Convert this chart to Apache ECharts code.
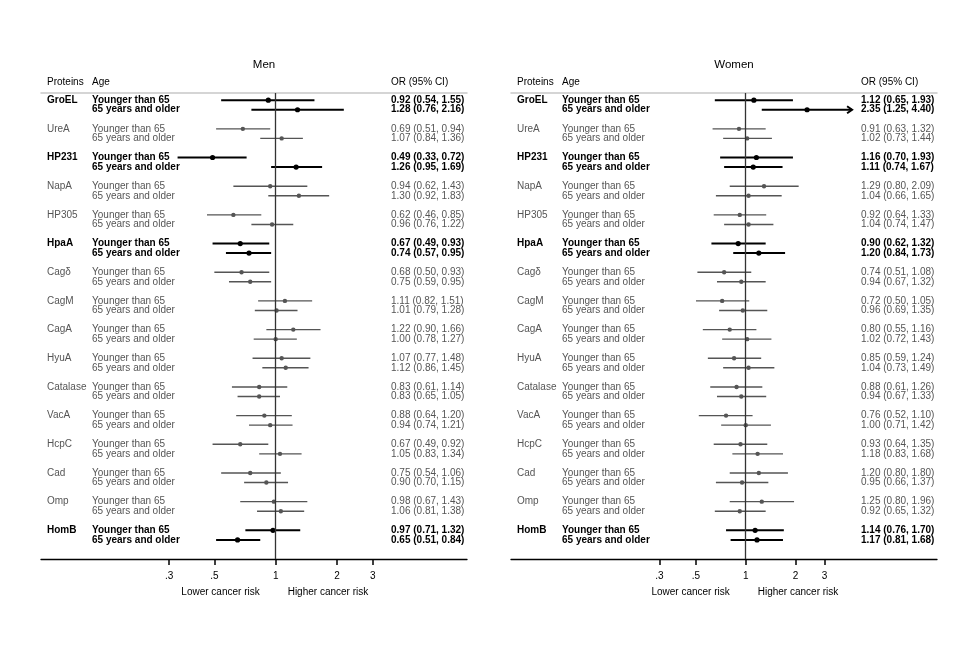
<!DOCTYPE html>
<html>
<head>
<meta charset="utf-8">
<title>Forest plot - Men / Women</title>
<script src="https://cdn.jsdelivr.net/npm/echarts@6/dist/echarts.min.js"></script>
<style type="text/css">
    html, body { margin: 0; padding: 0; background: #fff; }
    #main { width: 973px; height: 652px; }
</style>
</head>
<body>
<div id="main"></div>
<script>
var proteins = ['GroEL', 'UreA', 'HP231', 'NapA', 'HP305', 'HpaA', 'Cagδ', 'CagM',
                'CagA', 'HyuA', 'Catalase', 'VacA', 'HcpC', 'Cad', 'Omp', 'HomB'];
var ageGroups = ['Younger than 65', '65 years and older'];
var highlighted = ['GroEL', 'HP231', 'HpaA', 'HomB'];

// [younger than 65, 65 and older] per protein
var menOR   = [[0.92,1.28],[0.69,1.07],[0.49,1.26],[0.94,1.30],[0.62,0.96],[0.67,0.74],[0.68,0.75],[1.11,1.01],
               [1.22,1.00],[1.07,1.12],[0.83,0.83],[0.88,0.94],[0.67,1.05],[0.75,0.90],[0.98,1.06],[0.97,0.65]];
var menLow  = [[0.54,0.76],[0.51,0.84],[0.33,0.95],[0.62,0.92],[0.46,0.76],[0.49,0.57],[0.50,0.59],[0.82,0.79],
               [0.90,0.78],[0.77,0.86],[0.61,0.65],[0.64,0.74],[0.49,0.83],[0.54,0.70],[0.67,0.81],[0.71,0.51]];
var menHigh = [[1.55,2.16],[0.94,1.36],[0.72,1.69],[1.43,1.83],[0.85,1.22],[0.93,0.95],[0.93,0.95],[1.51,1.28],
               [1.66,1.27],[1.48,1.45],[1.14,1.05],[1.20,1.21],[0.92,1.34],[1.06,1.15],[1.43,1.38],[1.32,0.84]];

var womenOR   = [[1.12,2.35],[0.91,1.02],[1.16,1.11],[1.29,1.04],[0.92,1.04],[0.90,1.20],[0.74,0.94],[0.72,0.96],
                 [0.80,1.02],[0.85,1.04],[0.88,0.94],[0.76,1.00],[0.93,1.18],[1.20,0.95],[1.25,0.92],[1.14,1.17]];
var womenLow  = [[0.65,1.25],[0.63,0.73],[0.70,0.74],[0.80,0.66],[0.64,0.74],[0.62,0.84],[0.51,0.67],[0.50,0.69],
                 [0.55,0.72],[0.59,0.73],[0.61,0.67],[0.52,0.71],[0.64,0.83],[0.80,0.66],[0.80,0.65],[0.76,0.81]];
var womenHigh = [[1.93,4.40],[1.32,1.44],[1.93,1.67],[2.09,1.65],[1.33,1.47],[1.32,1.73],[1.08,1.32],[1.05,1.35],
                 [1.16,1.43],[1.24,1.49],[1.26,1.33],[1.10,1.42],[1.35,1.68],[1.80,1.37],[1.96,1.32],[1.70,1.68]];

var tickValues = [0.3, 0.5, 1, 2, 3];
var arrowAbove = 4;   // CIs reaching past this get an arrow head

var FONT = "'Liberation Sans', Arial, sans-serif";
var GRAY = '#555';

function buildRows(or, lo, hi) {
    var rows = [];
    for (var i = 0; i < proteins.length; i++) {
        for (var j = 0; j < 2; j++) {
            rows.push([or[i][j], lo[i][j], hi[i][j], i * 3 + j, i, j]);
        }
    }
    return rows;
}

function fmt(v) { return v.toFixed(2); }

function renderRow(params, api) {
    var or = api.value(0), lo = api.value(1), hi = api.value(2), pos = api.value(3);
    var p = api.value(4), j = api.value(5);
    var bold = highlighted.indexOf(proteins[p]) >= 0;
    var color = bold ? '#000' : GRAY;
    var left = params.coordSys.x;
    var a = api.coord([lo, pos]), b = api.coord([hi, pos]), c = api.coord([or, pos]);
    var lw = bold ? 2 : 1.4;
    var children = [
        { type: 'line', shape: { x1: a[0], y1: a[1], x2: b[0], y2: b[1] },
          style: { stroke: color, lineWidth: lw } },
        { type: 'circle', shape: { cx: c[0], cy: c[1], r: bold ? 2.6 : 2.2 },
          style: { fill: color } }
    ];
    if (hi > arrowAbove) {
        children.push({ type: 'polyline',
            shape: { points: [[b[0] - 5, b[1] - 3.5], [b[0], b[1]], [b[0] - 5, b[1] + 3.5]] },
            style: { stroke: color, lineWidth: lw, fill: null } });
    }
    var font = (bold ? 'bold ' : '') + '10px ' + FONT;
    if (j === 0) {
        children.push({ type: 'text', x: left + 6, y: c[1],
            style: { text: proteins[p], font: font, fill: color, verticalAlign: 'middle' } });
    }
    children.push({ type: 'text', x: left + 51, y: c[1],
        style: { text: ageGroups[j], font: font, fill: color, verticalAlign: 'middle' } });
    children.push({ type: 'text', x: left + 350, y: c[1],
        style: { text: fmt(or) + ' (' + fmt(lo) + ', ' + fmt(hi) + ')', font: font, fill: color, verticalAlign: 'middle' } });
    return { type: 'group', children: children };
}

var panels = [
    { name: 'Men', left: 41, min: 0.0705, max: 8.69, rows: buildRows(menOR, menLow, menHigh) },
    { name: 'Women', left: 511, min: 0.038, max: 14.36, rows: buildRows(womenOR, womenLow, womenHigh) }
];

var grids = [], xAxes = [], yAxes = [], series = [], graphics = [];
panels.forEach(function (pn, k) {
    grids.push({ left: pn.left, width: 426, top: 93, height: 466, containLabel: false, outerBoundsMode: 'none' });
    xAxes.push({
        type: 'log', gridIndex: k, min: pn.min, max: pn.max, position: 'bottom',
        axisLine: { show: true, onZero: false, lineStyle: { color: '#000', width: 1.3 } },
        axisTick: { show: true, length: 6, customValues: tickValues, lineStyle: { color: '#000', width: 1.5 } },
        axisLabel: { show: true, customValues: tickValues, margin: 12, fontSize: 10, fontFamily: FONT, color: '#000',
            formatter: function (v) { return v < 1 ? String(v).replace(/^0/, '') : String(v); } },
        splitLine: { show: false }, minorTick: { show: false }, minorSplitLine: { show: false }
    });
    xAxes.push({
        type: 'value', gridIndex: k, position: 'top', min: 0, max: 1,
        axisLine: { show: true, onZero: false, lineStyle: { color: '#c8c8c8', width: 1.5 } },
        axisTick: { show: false }, axisLabel: { show: false }, splitLine: { show: false }
    });
    yAxes.push({ type: 'value', gridIndex: k, inverse: true, min: -0.75, max: 48, show: false });
    series.push({
        type: 'custom', xAxisIndex: k * 2, yAxisIndex: k, data: pn.rows,
        encode: { x: [0, 1, 2], y: 3 }, renderItem: renderRow, silent: true, animation: false
    });
    series.push({
        type: 'scatter', xAxisIndex: k * 2, yAxisIndex: k, data: [], silent: true, animation: false,
        markLine: { symbol: 'none', silent: true, label: { show: false }, animation: false,
            lineStyle: { color: '#333', width: 1.3, type: 'solid' }, data: [{ xAxis: 1 }] }
    });
    var hdr = { font: '10px ' + FONT, fill: '#000', verticalAlign: 'middle' };
    graphics.push({ type: 'text', x: pn.left + 223, y: 65,
        style: { text: pn.name, font: '11.5px ' + FONT, fill: '#000', align: 'center', verticalAlign: 'middle' } });
    graphics.push({ type: 'text', x: pn.left + 6, y: 82, style: Object.assign({ text: 'Proteins' }, hdr) });
    graphics.push({ type: 'text', x: pn.left + 51, y: 82, style: Object.assign({ text: 'Age' }, hdr) });
    graphics.push({ type: 'text', x: pn.left + 350, y: 82, style: Object.assign({ text: 'OR (95% CI)' }, hdr) });
});

var myChart = echarts.init(document.getElementById('main'));
myChart.setOption({
    animation: false,
    backgroundColor: '#fff',
    grid: grids,
    xAxis: xAxes,
    yAxis: yAxes,
    series: series,
    graphic: graphics
});

// risk captions sit either side of OR = 1
panels.forEach(function (pn, k) {
    var x1 = myChart.convertToPixel({ xAxisIndex: k * 2 }, 1);
    graphics.push({ type: 'text', x: x1 - 16, y: 592,
        style: { text: 'Lower cancer risk', font: '10px ' + FONT, fill: '#000', align: 'right', verticalAlign: 'middle' } });
    graphics.push({ type: 'text', x: x1 + 12, y: 592,
        style: { text: 'Higher cancer risk', font: '10px ' + FONT, fill: '#000', align: 'left', verticalAlign: 'middle' } });
});
myChart.setOption({ graphic: graphics });
</script>
</body>
</html>
